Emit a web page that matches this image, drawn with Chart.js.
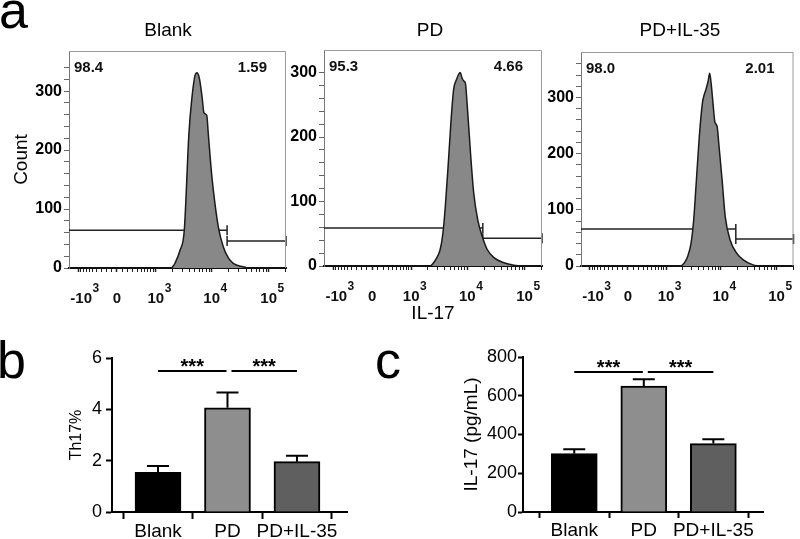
<!DOCTYPE html>
<html>
<head>
<meta charset="utf-8">
<script src="https://cdn.jsdelivr.net/npm/chart.js@4.4.1/dist/chart.umd.min.js"></script>
<style>
    html, body { margin: 0; padding: 0; background: #fff; }
    body { width: 800px; height: 539px; position: relative; overflow: hidden; font-family: Arial, "Liberation Sans", sans-serif; color: #000; }
    .box { position: absolute; }
    .letter { position: absolute; font-size: 52px; line-height: 52px; }
    .title { position: absolute; top: 19px; width: 200px; text-align: center; font-size: 19px; line-height: 22px; }
</style>
</head>
<body>
<div class="box" style="left:0; top:0; width:300px; height:320px"><canvas id="h0"></canvas></div>
<div class="box" style="left:260px; top:0; width:290px; height:330px"><canvas id="h1"></canvas></div>
<div class="box" style="left:520px; top:0; width:280px; height:320px"><canvas id="h2"></canvas></div>
<div class="box" style="left:60px; top:330px; width:300px; height:209px"><canvas id="barB"></canvas></div>
<div class="box" style="left:450px; top:330px; width:350px; height:209px"><canvas id="barC"></canvas></div>

<div class="letter" style="left:-1px; top:-16px">a</div>
<div class="letter" style="left:-3px; top:334px">b</div>
<div class="letter" style="left:375px; top:334px">c</div>
<div class="title" style="left:68px">Blank</div>
<div class="title" style="left:330px">PD</div>
<div class="title" style="left:580px">PD+IL-35</div>

<script>
// Figure: IL-17 flow histograms (a), Th17% (b) and IL-17 ELISA (c)

const FONT = 'Arial, "Liberation Sans", sans-serif';
Chart.defaults.font.family = FONT;
Chart.defaults.color = '#000';

// ---- panel a data: histograms, x in display channels (0-1024) ----
const blankX = [485, 500, 524, 544, 566, 579, 595, 604, 615, 628, 637, 650, 657, 670, 681, 705, 728, 752, 775, 821, 845];
const blankY = [0, 8, 30, 64, 229, 285, 327, 331, 322, 290, 263, 259, 229, 171, 132, 69, 36, 17, 8, 2, 0];
const pdX = [499, 507, 530, 546, 559, 570, 585, 597, 609, 622, 632, 640, 648, 656, 664, 672, 688, 703, 722, 743, 766, 798, 845, 892, 924];
const pdY = [0, 2, 13, 26, 52, 93, 165, 227, 274, 289, 297, 300, 292, 287, 284, 253, 176, 114, 72, 46, 26, 13, 5, 1, 0];
const il35X = [483, 499, 514, 530, 543, 554, 570, 585, 593, 601, 612, 620, 628, 636, 645, 656, 664, 680, 695, 719, 750, 782, 829, 860];
const il35Y = [0, 6, 17, 40, 82, 141, 230, 290, 304, 313, 328, 343, 322, 290, 257, 248, 218, 153, 88, 46, 23, 11, 2, 0];

const histX = [blankX, pdX, il35X];
const histY = [blankY, pdY, il35Y];
const histMax = [368, 335, 381];

// gates (channel of the split, count level of each marker)
const gateCh = 746;
const gateLeftY = [64, 59, 66];
const gateRightY = [46, 43, 48];
const pctLeft = ['98.4', '95.3', '98.0'];
const pctRight = ['1.59', '4.66', '2.01'];

// x axis decade labels: fluorescence value, base text, exponent
const majorTicks = [[-1000, '-10', '3'], [0, '0', ''], [1000, '10', '3'], [10000, '10', '4'], [100000, '10', '5']];

// ---- panels b and c data ----
const groups = ['Blank', 'PD', 'PD+IL-35'];
const barColors = ['#000000', '#8e8e8e', '#5f5f5f'];
const th17Mean = [1.55, 4.06, 1.96];
const th17Sem = [0.24, 0.60, 0.23];
const il17Mean = [301, 650, 353];
const il17Sem = [23, 35, 22];
const sigPairs = [[0, 1], [1, 2]];
const sigLabel = '***';
const th17SigY = 5.49;
const il17SigY = 722;

// layout of each histogram canvas
const histLayout = [
    { yW: 69, xH: 52, padTop: 51, padRight: 14 },
    { yW: 64, xH: 64, padTop: 50, padRight: 8 },
    { yW: 61, xH: 54, padTop: 52, padRight: 2 }
];

// biexponential-like display transform
const LOGICLE_W = 218;
const U_MIN = -0.842;
const U_MAX = 2.965;

function toChannel(v) {
    const u = Math.asinh(v / (2 * LOGICLE_W)) / Math.LN10;
    return (u - U_MIN) / (U_MAX - U_MIN) * 1024;
}

function histTicks() {
    const out = majorTicks.map(([v, base, sup]) => ({ value: toChannel(v), base: base, sup: sup, big: true }));
    const minors = [];
    for (let k = 1; k <= 9; k++) minors.push(-k * 100, k * 100);
    for (let k = 2; k <= 9; k++) minors.push(k * 1000, k * 10000, k * 100000);
    minors.forEach(v => {
        const c = toChannel(v);
        if (c >= 0 && c <= 1024) out.push({ value: c });
    });
    return out.sort((a, b) => a.value - b.value);
}

// box outline, gate percentages and decade labels with exponents
const histPlugin = {
    id: 'histDeco',
    afterDraw(chart, args, opts) {
        const { ctx, chartArea: a } = chart;
        const xs = chart.scales.x;
        ctx.save();
        ctx.strokeStyle = '#9a9a9a';
        ctx.lineWidth = 1;
        ctx.beginPath();
        ctx.moveTo(a.left, a.top + 0.5);
        ctx.lineTo(a.right - 0.5, a.top + 0.5);
        ctx.lineTo(a.right - 0.5, a.bottom);
        ctx.stroke();

        ctx.fillStyle = '#111';
        ctx.font = 'bold 15px ' + FONT;
        ctx.textBaseline = 'middle';
        ctx.textAlign = 'left';
        ctx.fillText(opts.left, a.left + 5, a.top + 17);
        ctx.textAlign = 'right';
        ctx.fillText(opts.right, a.right - 19, a.top + 17);

        ctx.textBaseline = 'alphabetic';
        ctx.textAlign = 'left';
        xs.ticks.filter(t => t.big).forEach(t => {
            const px = xs.getPixelForValue(t.value);
            ctx.font = 'bold 15px ' + FONT;
            const w = ctx.measureText(t.base).width;
            const x0 = px - w / 2 + (t.base.charAt(0) === '-' ? 3 : 0);
            ctx.fillText(t.base, x0, a.bottom + 35);
            if (t.sup) {
                ctx.font = 'bold 12px ' + FONT;
                ctx.fillText(t.sup, x0 + w + 0.5, a.bottom + 24);
            }
        });
        ctx.restore();
    }
};

function makeHist(i) {
    const L = histLayout[i];
    const gateStyle = {
        borderColor: '#222',
        borderWidth: 1.5,
        pointStyle: 'line',
        rotation: 90,
        pointBorderColor: '#222',
        pointBorderWidth: 1.5,
        fill: false,
        clip: false
    };

    new Chart(document.getElementById('h' + i), {
        type: 'line',
        data: {
            datasets: [
                {
                    data: histX[i].map((x, k) => ({ x: x, y: histY[i][k] })),
                    borderColor: '#1a1a1a',
                    borderWidth: 1.5,
                    backgroundColor: '#888888',
                    fill: 'origin',
                    pointRadius: 0,
                    cubicInterpolationMode: 'monotone'
                },
                Object.assign({
                    data: [{ x: 0, y: gateLeftY[i] }, { x: gateCh, y: gateLeftY[i] }],
                    pointRadius: [0, 5]
                }, gateStyle),
                Object.assign({
                    data: [{ x: gateCh, y: gateRightY[i] }, { x: 1024, y: gateRightY[i] }],
                    pointRadius: 5
                }, gateStyle)
            ]
        },
        options: {
            responsive: true,
            maintainAspectRatio: false,
            animation: false,
            layout: { padding: { top: L.padTop, right: L.padRight, left: 0, bottom: 0 } },
            plugins: {
                legend: { display: false },
                tooltip: { enabled: false },
                histDeco: { left: pctLeft[i], right: pctRight[i] }
            },
            scales: {
                x: {
                    type: 'linear',
                    min: 0,
                    max: 1024,
                    afterBuildTicks: s => { s.ticks = histTicks(); },
                    afterFit: s => { s.height = L.xH; },
                    ticks: { display: false, autoSkip: false },
                    grid: {
                        drawOnChartArea: false,
                        tickLength: 4,
                        tickColor: '#222',
                        tickWidth: c => (c.tick && c.tick.big ? 1.5 : 1)
                    },
                    border: { color: '#111', width: 2 },
                    title: {
                        display: i === 1,
                        text: 'IL-17',
                        font: { size: 19 },
                        padding: { top: 0, bottom: 5 }
                    }
                },
                y: {
                    min: 0,
                    max: histMax[i],
                    afterBuildTicks: s => { s.ticks = s.ticks.filter(t => t.value % 20 === 0); },
                    afterFit: s => { s.width = L.yW; },
                    ticks: {
                        stepSize: 20,
                        autoSkip: false,
                        padding: 2,
                        color: '#000',
                        font: { size: 16, weight: 'bold' },
                        callback: v => (v % 100 === 0 ? v : '')
                    },
                    grid: { drawOnChartArea: false, tickLength: 5, tickColor: '#666', tickWidth: 1 },
                    border: { color: '#777', width: 1 },
                    title: {
                        display: i === 0,
                        text: 'Count',
                        font: { size: 19 },
                        padding: { top: 10, bottom: 0 }
                    }
                }
            }
        },
        plugins: [histPlugin]
    });
}

// error bars + significance brackets
const barPlugin = {
    id: 'barDeco',
    afterDatasetsDraw(chart, args, opts) {
        const { ctx, scales: { x, y } } = chart;
        const meta = chart.getDatasetMeta(0);
        ctx.save();
        ctx.strokeStyle = '#000';
        ctx.lineWidth = 2;
        meta.data.forEach((bar, k) => {
            const m = chart.data.datasets[0].data[k].y;
            const top = y.getPixelForValue(m + opts.sem[k]);
            ctx.beginPath();
            ctx.moveTo(bar.x, bar.y);
            ctx.lineTo(bar.x, top);
            ctx.moveTo(bar.x - 11, top);
            ctx.lineTo(bar.x + 11, top);
            ctx.stroke();
        });

        const ly = y.getPixelForValue(opts.sigY);
        ctx.fillStyle = '#000';
        ctx.font = 'bold 20px ' + FONT;
        ctx.textAlign = 'center';
        ctx.textBaseline = 'alphabetic';
        sigPairs.forEach(([a, b]) => {
            const xa = x.getPixelForValue(a + 1) + (a > 0 ? 4 : 0);
            const xb = x.getPixelForValue(b + 1) - (b < groups.length - 1 ? 1 : 0);
            ctx.beginPath();
            ctx.moveTo(xa, ly);
            ctx.lineTo(xb, ly);
            ctx.stroke();
            ctx.fillText(sigLabel, (xa + xb) / 2, ly + 2);
        });
        ctx.restore();
    }
};

function makeBar(id, mean, sem, yMax, yStep, yTitle, sigY, L) {
    new Chart(document.getElementById(id), {
        type: 'bar',
        data: {
            datasets: [{
                data: mean.map((m, k) => ({ x: k + 1, y: m })),
                backgroundColor: barColors,
                borderColor: '#000',
                borderWidth: 2,
                barThickness: 46
            }]
        },
        options: {
            responsive: true,
            maintainAspectRatio: false,
            animation: false,
            layout: { padding: { top: L.padTop, right: L.padRight, left: 0, bottom: 0 } },
            plugins: {
                legend: { display: false },
                tooltip: { enabled: false },
                barDeco: { sem: sem, sigY: sigY }
            },
            scales: {
                x: {
                    type: 'linear',
                    offset: false,
                    min: L.xMin,
                    max: L.xMax,
                    afterBuildTicks: s => { s.ticks = groups.map((g, k) => ({ value: k + 1 })); },
                    afterFit: s => { s.height = L.xH; },
                    ticks: {
                        autoSkip: false,
                        maxRotation: 0,
                        padding: L.xPad,
                        color: '#000',
                        font: { size: 19 },
                        callback: v => groups[Math.round(v) - 1]
                    },
                    grid: { drawOnChartArea: false, tickLength: L.xTl, tickColor: '#000', tickWidth: 2 },
                    border: { color: '#000', width: 2 }
                },
                y: {
                    min: 0,
                    max: yMax,
                    afterFit: s => { s.width = L.yW; },
                    ticks: { stepSize: yStep, padding: L.yPad, color: '#000', font: { size: 18 } },
                    grid: { drawOnChartArea: false, tickLength: L.yTl, tickColor: '#000', tickWidth: 2 },
                    border: { color: '#000', width: 2 },
                    title: {
                        display: true,
                        text: yTitle,
                        font: { size: L.titleSize },
                        padding: { top: L.titlePad, bottom: 0 }
                    }
                }
            }
        },
        plugins: [barPlugin]
    });
}

makeHist(0);
makeHist(1);
makeHist(2);

makeBar('barB', th17Mean, th17Sem, 6, 2, 'Th17%', th17SigY, {
    yW: 52, padTop: 28, padRight: 13, xH: 27, xMin: 0.338, xMax: 3.72,
    xTl: 7, xPad: 1, yTl: 6, yPad: 4, titleSize: 16, titlePad: 7
});
makeBar('barC', il17Mean, il17Sem, 800, 200, 'IL-17 (pg/mL)', il17SigY, {
    yW: 73, padTop: 27, padRight: 37, xH: 27, xMin: 0.263, xMax: 3.714,
    xTl: 6, xPad: 1, yTl: 5, yPad: 1, titleSize: 19, titlePad: 10
});
</script>
</body>
</html>
